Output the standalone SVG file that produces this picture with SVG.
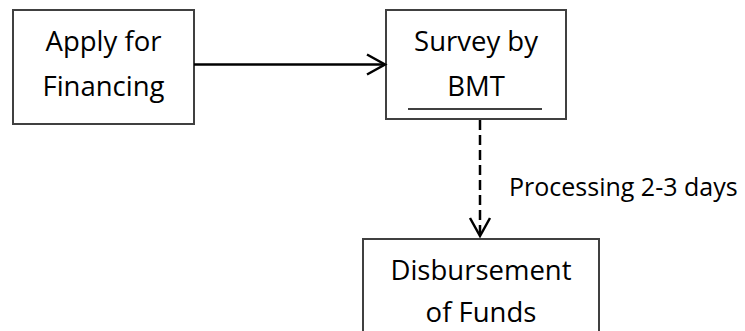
<svg xmlns="http://www.w3.org/2000/svg" width="745" height="331" viewBox="0 0 745 331">
<style>
.box{fill:#fff;stroke:#404040;stroke-width:2}
.lbl{font-family:"Open Sans","Liberation Sans",sans-serif;font-size:25px;fill:#000}
.node{font-size:27.5px;text-anchor:middle}
.conn{fill:none;stroke:#000;stroke-width:2.5}
</style>
<defs>
<marker id="open" markerWidth="24" markerHeight="24" refX="20" refY="10" orient="auto" markerUnits="userSpaceOnUse" viewBox="0 0 24 20">
<path d="M2,0 L20,10 L2,20" fill="none" stroke="#000" stroke-width="2.5"/>
</marker>
</defs>
<rect width="745" height="331" fill="#fff"/>
<g id="node-apply">
<rect class="box" x="13" y="10" width="181" height="114"/>
<text class="lbl node" x="103.5" y="51">Apply for</text>
<text class="lbl node" x="103.5" y="96">Financing</text>
</g>
<g id="node-survey">
<rect class="box" x="386" y="10" width="180" height="109"/>
<text class="lbl node" x="476" y="51">Survey by</text>
<text class="lbl node" x="476" y="96">BMT</text>
<line x1="408" y1="109" x2="542" y2="109" stroke="#000" stroke-width="1.5"/>
</g>
<g id="node-disburse">
<rect class="box" x="363" y="239" width="236" height="110"/>
<text class="lbl node" x="481" y="280">Disbursement</text>
<text class="lbl node" x="481" y="322">of Funds</text>
</g>
<g id="connectors">
<line class="conn" x1="194" y1="64.5" x2="385" y2="64.5" marker-end="url(#open)"/>
<line class="conn" x1="480" y1="120" x2="480" y2="236" stroke-dasharray="10,5" stroke-width="2.5" marker-end="url(#open)"/>
<text class="lbl" x="509" y="196">Processing 2-3 days</text>
</g>
</svg>
